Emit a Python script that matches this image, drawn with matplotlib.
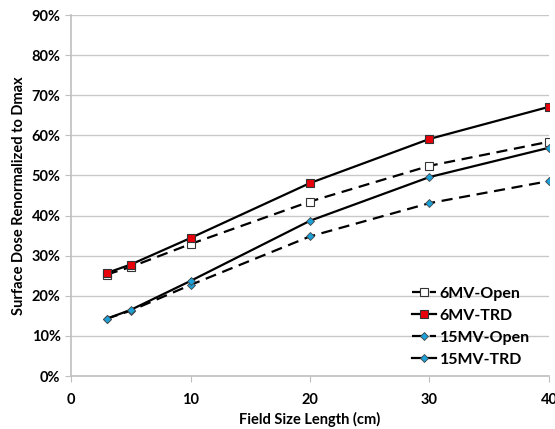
import numpy as np
import matplotlib
matplotlib.use("Agg")
import matplotlib.pyplot as plt
from matplotlib.ticker import FuncFormatter

plt.rcParams["font.family"] = ["Lato", "DejaVu Sans"]
plt.rcParams["font.weight"] = "bold"

# field size length (cm)
field = [3, 5, 10, 20, 30, 40]

# surface dose renormalized to Dmax (fraction)
mv6_open = [0.253, 0.272, 0.329, 0.435, 0.524, 0.584]
mv6_trd = [0.257, 0.278, 0.344, 0.481, 0.591, 0.671]
mv15_open = [0.143, 0.163, 0.227, 0.348, 0.431, 0.486]
mv15_trd = [0.143, 0.165, 0.237, 0.387, 0.496, 0.569]

GRID = "#c8c8c8"
AXIS = "#bfbfbf"
CYAN = "#1ca0d8"

fig = plt.figure(figsize=(5.55, 4.29), dpi=100)
ax = fig.add_axes([0.128, 0.1235, 0.861, 0.8415])

ax.plot(field, mv6_open, color="black", lw=1.6, ls=(0, (5, 3)), marker="s", ms=6,
        mfc="white", mec="#333333", mew=0.8, label="6MV-Open", zorder=3)
ax.plot(field, mv6_trd, color="black", lw=1.6, marker="s", ms=6,
        mfc="#e8000b", mec="#333333", mew=0.8, label="6MV-TRD", zorder=4)
ax.plot(field, mv15_open, color="black", lw=1.6, ls=(0, (5, 3)), marker="D", ms=4.5,
        mfc=CYAN, mec="#444444", mew=0.6, label="15MV-Open", zorder=3)
ax.plot(field, mv15_trd, color="black", lw=1.6, marker="D", ms=4.5,
        mfc=CYAN, mec="#444444", mew=0.6, label="15MV-TRD", zorder=4)

ax.set_xlim(0, 40)
ax.set_ylim(0, 0.9)
ax.set_xticks(range(0, 41, 10))
ax.set_yticks(np.arange(0, 0.91, 0.1))
ax.yaxis.set_major_formatter(FuncFormatter(lambda v, p: f"{v*100:.0f}%"))

ax.grid(axis="y", color=GRID, lw=1, zorder=0)
ax.set_axisbelow(True)
for s in ["top", "right"]:
    ax.spines[s].set_visible(False)
for s in ["left", "bottom"]:
    ax.spines[s].set_color(AXIS)
    ax.spines[s].set_linewidth(1.2)
ax.tick_params(axis="both", colors=AXIS, labelcolor="black", labelsize=10.5, length=4)
ax.tick_params(axis="x", pad=8)
for lbl in ax.get_xticklabels() + ax.get_yticklabels():
    lbl.set_fontweight("bold")

ax.set_xlabel("Field Size Length (cm)", fontsize=10.5, fontweight="bold")
ax.set_ylabel("Surface Dose Renormalized to Dmax", fontsize=10.5, fontweight="bold", labelpad=4)

leg = ax.legend(loc="lower right", bbox_to_anchor=(0.99, -0.015), frameon=False,
                prop={"weight": "bold", "size": 11.5},
                handlelength=1.5, handletextpad=0.25, labelspacing=0.5)

fig.savefig("out.png", dpi=100)
